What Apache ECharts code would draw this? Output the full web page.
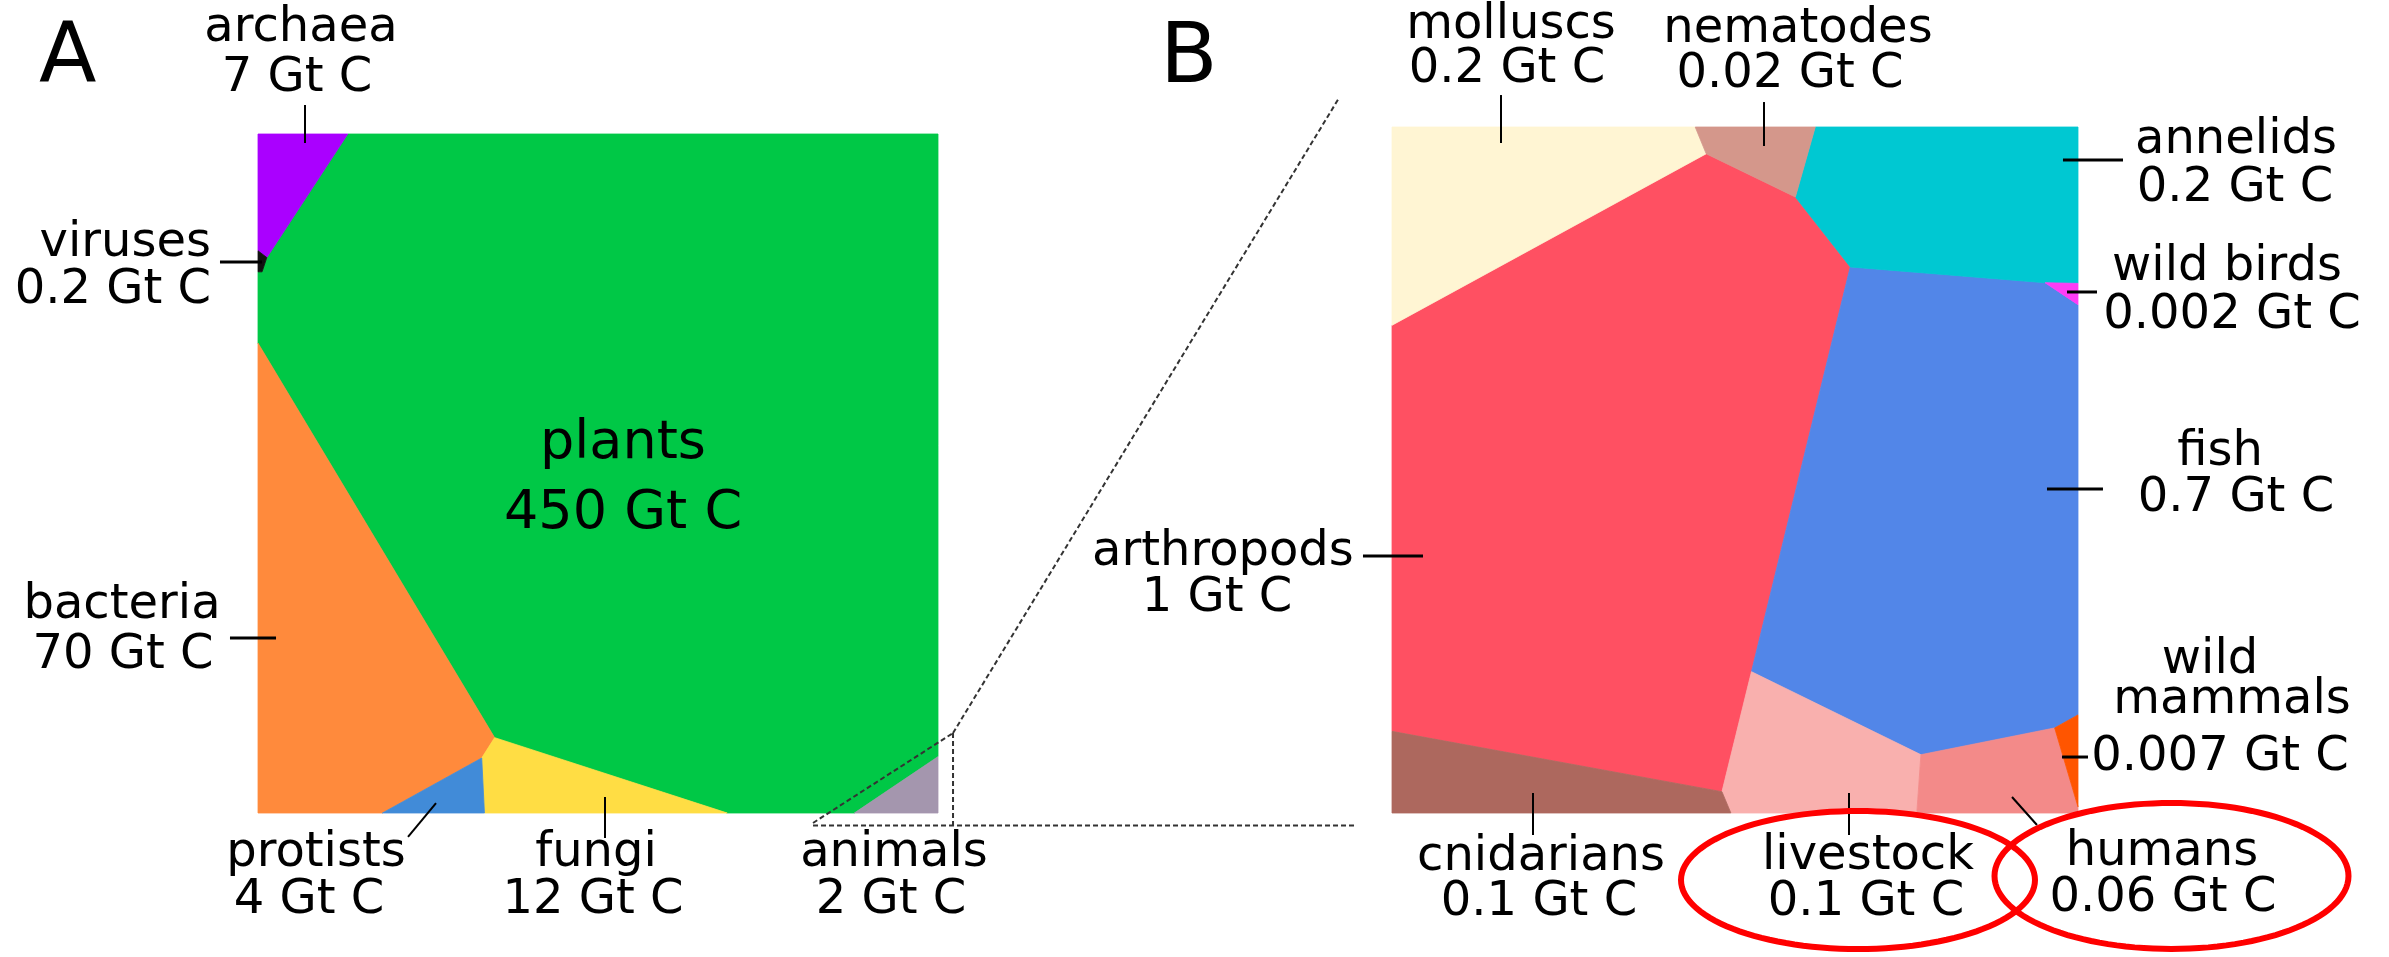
<!DOCTYPE html>
<html><head><meta charset="utf-8">
<script src="https://cdn.jsdelivr.net/npm/echarts@6/dist/echarts.min.js"></script>
<style>html,body{margin:0;padding:0;background:#fff;}#chart{width:2389px;height:957px;}</style>
</head><body><div id="chart"></div>
<script>
// ---------------- DATA ----------------
const lifeCategories = ['plants', 'bacteria', 'fungi', 'archaea', 'protists', 'animals', 'viruses'];
const lifeBiomass = [450, 70, 12, 7, 4, 2, 0.2];
const animalCategories = ['arthropods', 'fish', 'annelids', 'molluscs', 'livestock', 'cnidarians', 'humans', 'nematodes', 'wild mammals', 'wild birds'];
const animalBiomass = [1, 0.7, 0.2, 0.2, 0.1, 0.1, 0.06, 0.02, 0.007, 0.002];
const unitText = 'Gt C';
const panelTitles = ['A', 'B'];
const highlighted = ['livestock', 'humans'];

// ---------------- LAYOUT (panel units 0..100, y down) ----------------
const cellsA = {
  archaea: [[0,0],[13.2,0],[1.3,18.2],[0,17.2]],
  viruses: [[0,17.2],[1.3,18.2],[0.6,20.3],[0,20.3]],
  plants: [[13.2,0],[100,0],[100,91.7],[87.7,100],[69.0,100],[34.8,88.9],[0,30.8],[0,20.3],[0.6,20.3],[1.3,18.2]],
  bacteria: [[0,30.8],[34.8,88.9],[32.9,91.9],[18.3,100],[0,100]],
  protists: [[32.9,91.9],[33.3,100],[18.3,100]],
  fungi: [[34.8,88.9],[69.0,100],[33.3,100],[32.9,91.9]],
  animals: [[87.7,100],[100,91.7],[100,100]]
};
const cellsB = {
  molluscs: [[0,0],[44.2,0],[45.8,3.9],[0,28.9]],
  nematodes: [[44.2,0],[61.7,0],[58.8,10.2],[45.8,3.9]],
  annelids: [[61.7,0],[100,0],[100,22.8],[95.2,22.7],[66.8,20.4],[58.8,10.2]],
  'wild birds': [[95.2,22.7],[100,22.8],[100,25.9]],
  fish: [[66.8,20.4],[95.2,22.7],[100,25.9],[100,85.7],[96.6,87.6],[77.1,91.5],[52.4,79.4]],
  arthropods: [[0,28.9],[45.8,3.9],[58.8,10.2],[66.8,20.4],[52.4,79.4],[48.1,96.9],[0,88.1]],
  'wild mammals': [[96.6,87.6],[100,85.7],[100,99.1]],
  humans: [[77.1,91.5],[96.6,87.6],[100,99.1],[100,100],[76.5,100]],
  livestock: [[52.4,79.4],[77.1,91.5],[76.5,100],[49.4,100],[48.1,96.9]],
  cnidarians: [[0,88.1],[48.1,96.9],[49.4,100],[0,100]]
};
const colors = {
  plants:'#00c846', archaea:'#aa00ff', viruses:'#111111', bacteria:'#ff8a3c', protists:'#418bd8', fungi:'#ffdd44', animals:'#a496ae',
  molluscs:'#fff5d3', nematodes:'#d4978b', annelids:'#00c8d2', 'wild birds':'#ff3cf5', fish:'#5286e8', arthropods:'#ff5062',
  cnidarians:'#ad685e', livestock:'#f9b0ae', humans:'#f38a89', 'wild mammals':'#ff5500'
};
const nameWrap = {'wild mammals': ['wild', 'mammals']};
const labelsA = {
  archaea: {text:[[6.32,-15.46],[5.74,-8.10]], leader:[[6.91,-4.27],[6.91,1.33]]},
  viruses: {align:'right', text:[[-6.91,16.20],[-6.91,23.12]], leader:[[-5.59,18.85],[0.59,18.85]]},
  bacteria: {text:[[-20.0,69.51],[-19.85,76.88]], leader:[[-4.12,74.23],[2.65,74.23]]},
  plants: {size:54, text:[[53.68,45.66],[53.68,55.96]]},
  protists: {text:[[8.53,106.04],[7.5,112.96]], leader:[[22.06,103.53],[26.18,98.53]]},
  fungi: {text:[[49.71,106.04],[49.26,112.96]], leader:[[51.03,103.68],[51.03,97.64]]},
  animals: {text:[[93.53,106.04],[93.09,112.96]]}
};
const labelsB = {
  molluscs: {text:[[17.35,-14.72],[16.76,-8.45]], leader:[[15.89,-4.66],[15.89,2.33]]},
  nematodes: {text:[[59.18,-14.14],[58.02,-7.58]], leader:[[54.23,-3.64],[54.23,2.77]]},
  annelids: {text:[[123.03,2.04],[122.89,9.04]], leader:[[97.81,4.81],[106.56,4.81]]},
  'wild birds': {text:[[121.72,20.55],[122.45,27.41]], leader:[[98.40,24.05],[102.77,24.05]]},
  fish: {text:[[120.70,47.52],[123.03,54.23]], leader:[[95.48,52.77],[103.64,52.77]]},
  arthropods: {text:[[-24.64,62.10],[-25.51,68.80]], leader:[[-4.23,62.54],[4.52,62.54]]},
  'wild mammals': {text:[[119.24,77.84],[122.45,83.67],[120.70,91.98]], leader:[[97.67,91.84],[101.46,91.84]]},
  cnidarians: {text:[[21.72,106.56],[21.43,113.12]], leader:[[20.55,97.08],[20.55,103.21]]},
  livestock: {text:[[69.39,106.41],[69.10,113.12]], leader:[[66.62,97.08],[66.62,103.21]]},
  humans: {text:[[112.24,105.83],[112.39,112.54]], leader:[[90.38,97.67],[94.02,101.75]]}
};
const zoomGuides = [
  [[81.62,101.47],[102.21,88.22]],
  [[102.21,88.22],[158.97,-5.30]],
  [[102.21,88.22],[102.21,101.85]],
  [[81.62,101.85],[161.32,101.85]]
];
const ellipseB = {livestock:{c:[67.93,109.77], r:[25.8,10.06]}, humans:{c:[113.63,109.18], r:[25.8,10.64]}};

const FONT = '"DejaVu Sans", "Liberation Sans", sans-serif';

function cellSeries(idx, cats, vals, cells, labels) {
  return {
    type: 'custom', coordinateSystem: 'cartesian2d', xAxisIndex: idx, yAxisIndex: idx, clip: false,
    data: cats.map((c, i) => ({name: c, value: [50, 50, vals[i]]})),
    silent: true,
    renderItem: function (params, api) {
      const name = cats[params.dataIndex];
      const v = vals[params.dataIndex];
      const children = [];
      const pts = cells[name].map(p => api.coord(p));
      children.push({type: 'polygon', shape: {points: pts}, style: {fill: colors[name], stroke: colors[name], lineWidth: 0.8}});
      const lab = labels[name];
      if (lab) {
        const lines = (nameWrap[name] || [name]).concat([v + ' ' + unitText]);
        const fs = lab.size || 48;
        lines.forEach((t, k) => {
          const p = api.coord(lab.text[k]);
          children.push({type: 'text', x: p[0], y: p[1], z2: 10, style: {text: t, fill: '#000', font: fs + 'px ' + FONT, align: lab.align || 'center', verticalAlign: 'middle'}});
        });
        if (lab.leader) {
          const a = api.coord(lab.leader[0]), b = api.coord(lab.leader[1]);
          const horiz = Math.abs(a[1] - b[1]) < 1;
          children.push({type: 'line', z2: 10, shape: {x1: a[0], y1: a[1], x2: b[0], y2: b[1]}, style: {stroke: '#000', lineWidth: horiz ? 3 : 2}});
        }
      }
      return {type: 'group', children: children};
    }
  };
}

const option = {
  animation: false,
  backgroundColor: '#ffffff',
  title: [
    {text: panelTitles[0], left: 34, top: 13, textStyle: {fontSize: 84, fontWeight: 'normal', color: '#000', fontFamily: FONT}},
    {text: panelTitles[1], left: 1155, top: 13, textStyle: {fontSize: 84, fontWeight: 'normal', color: '#000', fontFamily: FONT}}
  ],
  grid: [
    {left: 258, top: 134, width: 680, height: 679},
    {left: 1392, top: 127, width: 686, height: 686}
  ],
  xAxis: [
    {gridIndex: 0, type: 'value', min: 0, max: 100, show: false},
    {gridIndex: 1, type: 'value', min: 0, max: 100, show: false}
  ],
  yAxis: [
    {gridIndex: 0, type: 'value', min: 0, max: 100, inverse: true, show: false},
    {gridIndex: 1, type: 'value', min: 0, max: 100, inverse: true, show: false}
  ],
  series: [
    cellSeries(0, lifeCategories, lifeBiomass, cellsA, labelsA),
    cellSeries(1, animalCategories, animalBiomass, cellsB, labelsB),
    {
      type: 'custom', coordinateSystem: 'cartesian2d', xAxisIndex: 0, yAxisIndex: 0, clip: false, silent: true, z: 5,
      data: zoomGuides.map((g, i) => [i, 0]),
      renderItem: function (params, api) {
        const g = zoomGuides[params.dataIndex];
        const a = api.coord(g[0]), b = api.coord(g[1]);
        return {type: 'line', shape: {x1: a[0], y1: a[1], x2: b[0], y2: b[1]}, style: {stroke: '#333', lineWidth: 2, lineDash: [5, 3]}};
      }
    },
    {
      type: 'custom', coordinateSystem: 'cartesian2d', xAxisIndex: 1, yAxisIndex: 1, clip: false, silent: true, z: 6,
      data: highlighted.map((h, i) => [i, 0]),
      renderItem: function (params, api) {
        const e = ellipseB[highlighted[params.dataIndex]];
        const c = api.coord(e.c);
        const rx = api.size([e.r[0], 0])[0], ry = api.size([0, e.r[1]])[1];
        const pts = [];
        for (let k = 0; k < 120; k++) { const t = k / 120 * Math.PI * 2; pts.push([c[0] + rx * Math.cos(t), c[1] + ry * Math.sin(t)]); }
        return {type: 'polygon', shape: {points: pts}, style: {fill: 'none', stroke: '#ff0000', lineWidth: 6}};
      }
    }
  ]
};
const chart = echarts.init(document.getElementById('chart'), null, {renderer: 'canvas'});
chart.setOption(option);
</script></body></html>
